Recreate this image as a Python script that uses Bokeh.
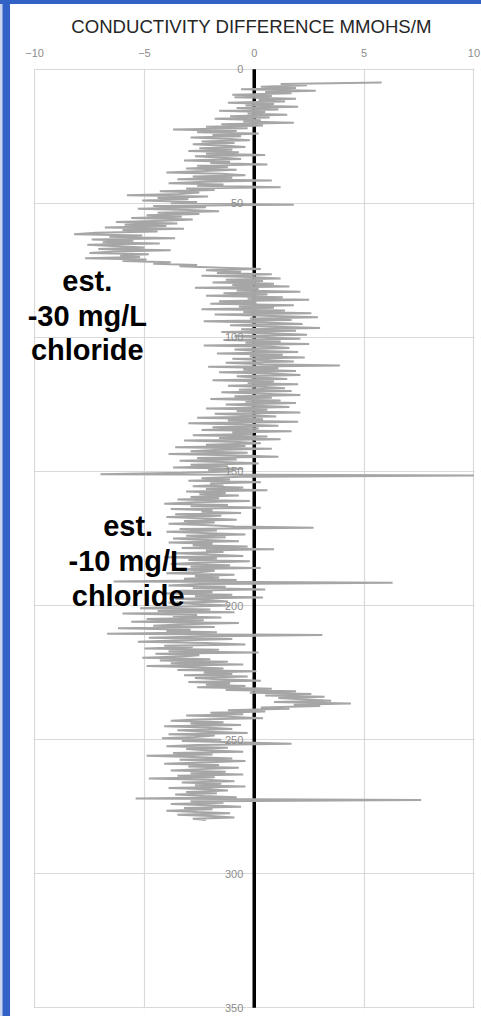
from bokeh.plotting import figure
from bokeh.models import Range1d, FixedTicker, Div, Label, BoxAnnotation
from bokeh.layouts import column, row
from bokeh.embed import file_html
from bokeh.resources import INLINE

# ---------------- data ----------------
TITLE = "CONDUCTIVITY DIFFERENCE MMOHS/M"
X_TICKS = [-10, -5, 0, 5, 10]
Y_TICKS = [0, 50, 100, 150, 200, 250, 300, 350]

DEPTH_START = 5.0   # first logged depth
DEPTH_STEP = 0.5    # logging interval

# conductivity difference, one row per 10 m of depth (first row 5-9.5)
COND = [
    5.8, 1.2, 2.4, 0.3, 1.9, -0.6, 2.8, 0.5, 1.7, -1.0,
    0.8, -0.9, 1.9, 0.2, 1.4, -1.2, 0.9, -0.4, 2.0, -0.8, 1.1, -1.6, 0.5, -0.3, 1.5, -1.1, 0.7, -1.8, 0.3, -0.5,
    1.8, -1.5, 0.4, -2.2, -0.3, -3.7, -0.8, -2.6, 0.2, -1.9, -0.6, -2.9, -1.1, -0.2, -2.4, -0.9, -2.8, -1.3, -0.4, -2.5,
    -1.0, -3.0, -0.7, -2.2, 0.5, -2.7, -1.4, -0.6, -3.2, -1.1, -2.0, 0.6, -2.6, -1.2, -3.1, -0.8, -2.3, -4.0, -1.5, -0.4,
    -2.8, -1.0, -3.5, 0.8, -2.2, -3.9, -1.4, -2.6, 1.2, -3.1, -1.8, -4.3, -2.5, -3.4, -5.8, -2.1, -4.4, -3.0, -5.1, -2.6,
    -3.8, 1.8, -4.6, -2.2, -5.3, -3.0, -1.6, -4.4, -2.5, -4.9, -3.3, -5.6, -2.8, -4.1, -6.3, -3.5, -5.9, -4.0, -6.8, -3.2,
    -6.0, -4.4, -7.2, -8.2, -5.1, -6.6, -3.6, -7.4, -5.5, -6.9, -4.3, -7.6, -6.2, -5.0, -7.1, -3.8, -6.4, -7.5, -4.8, -6.1,
    -5.2, -7.7, -4.9, -6.0, -3.8, -4.6, -2.6, -3.4, -1.5, 0.3, -2.2, -0.6, -1.7, 0.8, -2.4, -0.2, 1.2, -1.3, 0.4, -1.9,
    0.9, -1.0, 1.6, -2.7, 0.2, -0.8, 2.1, -1.4, 0.6, -2.2, 1.3, -0.3, 2.5, -1.6, 0.1, -2.0, 1.8, -0.7, 0.9, -2.4,
    1.4, -0.5, 2.6, -1.8, 0.9, 2.9, -0.2, 1.7, -2.3, 0.5, 2.2, -1.1, 1.0, 3.0, -0.6, 1.9, -1.5, 0.7, 2.4, -0.9,
    0.3, 2.1, -1.4, 1.2, -0.4, 2.5, -2.3, 0.8, 1.6, -0.9, 0.1, 2.0, -1.7, 1.3, -0.2, 2.3, -1.0, 0.6, 1.8, -1.3,
    0.4, 3.9, -2.1, 1.1, -0.5, 1.9, -1.6, 0.7, 2.1, -0.8, 0.2, 1.5, -1.9, 0.9, -0.3, 2.0, -1.2, 0.5, 1.4, -0.7,
    1.7, -1.5, 0.3, 2.1, -0.9, 0.8, -2.0, 1.2, -0.4, 1.9, -1.3, 0.1, 1.6, -2.2, 0.6, -0.8, 2.1, -1.8, -0.2, 1.0,
    -2.6, 0.4, -1.2, 2.0, -3.0, -0.6, 1.1, -1.9, 0.2, -2.4, 1.7, -1.0, -0.1, -2.8, 0.6, -1.6, 1.2, -3.2, -0.7, 0.3,
    -2.2, -0.4, -3.6, 0.8, -1.8, -2.9, -0.3, -3.9, -1.1, 1.1, -2.6, -0.8, -3.4, -1.5, 0.2, -2.9, -1.2, -3.7, -0.5, -2.1,
    -1.0, -3.3, -7.0, 10.0, -0.6, -2.4, -1.1, -3.0, 0.3, -2.0, -1.4, -2.8, -0.5, -2.2, 0.6, -3.1, -1.3, -2.5, -0.7, -2.9,
    -1.6, -3.5, -0.2, -2.7, -4.1, -1.2, -2.9, 0.3, -3.8, -1.9, -2.4, -0.6, -3.6, -1.5, -4.0, -2.1, -0.8, -3.2, -1.8, -3.9,
    -2.3, -0.9, 2.7, -3.4, -1.7, -4.0, -2.0, -0.4, -3.1, -1.3, -3.7, -2.5, -0.7, -3.9, -1.9, -2.8, -0.3, -3.3, 0.9, -2.2,
    -1.4, -3.6, -2.1, -0.5, -4.1, -1.7, -3.0, -0.2, -2.6, -3.8, -1.1, -2.9, 0.3, -3.5, -1.8, -2.4, -4.0, -0.9, -2.7, -1.6,
    -3.2, -0.8, -6.4, 6.3, -2.5, -3.9, -1.3, -2.8, 0.5, -3.4, -1.9, -4.2, -1.0, -2.7, 0.4, -3.6, -2.0, -1.2, -3.9, -2.4,
    -1.1, -3.8, -5.2, -2.0, -4.4, -0.9, -6.0, -2.6, -3.7, -1.5, -4.9, -2.3, -5.6, -0.7, -3.2, -4.6, -1.8, -6.2, -2.9, -4.0,
    -1.7, -6.7, 3.1, -2.4, -4.8, -1.0, -3.6, -5.3, -2.2, -0.4, -4.1, -2.8, -5.0, -1.6, -3.9, 0.2, -4.5, -2.5, -3.3, -5.1,
    -2.0, -4.3, -1.2, -3.8, -0.5, -4.9, -2.6, -1.4, -3.5, 0.1, -2.3, -1.0, -3.2, -0.3, -2.7, -1.6, 0.3, -3.0, -1.1, -2.2,
    -0.4, -2.6, 0.8, -1.3, 1.9, -0.2, 2.6, 0.5, 3.2, 1.1, 2.4, 3.5, 0.9, 4.4, 1.8, 3.0, 0.3, 1.6, -1.2, 0.5,
    -2.0, -0.5, -3.1, -1.2, 0.4, -2.6, -3.8, -1.4, -2.9, -0.6, -4.1, -2.2, -1.0, -3.5, -2.4, -0.3, -3.9, -1.8, -2.7, -4.2,
    -1.5, -3.3, -0.9, 1.7, -2.6, -4.0, -1.2, -3.1, -2.2, -0.5, -3.7, -1.9, -4.9, -2.8, -1.0, -3.4, -0.4, -2.5, -4.1, -1.6,
    -3.0, -0.7, -2.4, -3.8, -1.3, -2.9, -0.5, -3.5, -1.8, -4.8, -2.2, -0.9, -3.3, -1.5, -2.7, -0.4, -3.9, -2.0, -1.2, -3.1,
    -1.7, -3.6, -2.3, -0.8, -5.4, 7.6, -2.9, -1.4, -3.8, -2.1, -0.6, -3.2, -1.9, -4.0, -2.6, -1.1, -3.5, -2.0, -0.9, -2.8,
    -2.2,
]
DEPTH = [round(DEPTH_START + i * DEPTH_STEP, 1) for i in range(len(COND))]

NOTE_LINES_1 = ["est.", "-30 mg/L", "chloride"]
NOTE_LINES_2 = ["est.", "-10 mg/L", "chloride"]

# ---------------- layout / style ----------------
NOTE1_X = -7.6
NOTE1_Y = [79.1, 92.1, 104.8]
NOTE2_X = -5.74
NOTE2_Y = [170.5, 183.5, 196.6]

FONT = "Liberation Sans"
GRID = "#d9d9d9"
TICK_COLOR = "#8c8c8c"
BLUE = "#3362c6"
# the frame is a little larger than the -10..10 / 0..350 box so that texts near the edges are not clipped
X_LO, X_HI = -10.55, 10.3
Y_LO, Y_HI = -2.5, 352.5

p = figure(width=471, height=1012, output_backend="svg", toolbar_location=None,
           x_range=Range1d(X_LO, X_HI), y_range=Range1d(Y_HI, Y_LO),
           x_axis_location="above",
           min_border_left=12, min_border_right=1, min_border_top=58, min_border_bottom=2,
           title=TITLE, margin=0)
p.background_fill_color = "white"
p.border_fill_color = "white"
p.outline_line_color = None

p.title.text_font = FONT
p.title.text_font_size = "18.6px"
p.title.text_font_style = "normal"
p.title.text_color = "#262626"
p.title.align = "center"
p.title.standoff = 17

# x axis on top
xa = p.xaxis[0]
xa.ticker = FixedTicker(ticks=X_TICKS)
xa.axis_line_color = None
xa.major_tick_line_color = None
xa.minor_tick_line_color = None
xa.major_label_text_font = FONT
xa.major_label_text_font_size = "11px"
xa.major_label_text_color = TICK_COLOR
xa.major_label_standoff = 0

# y axis floating at x=0
ya = p.yaxis[0]
ya.ticker = FixedTicker(ticks=Y_TICKS)
ya.fixed_location = 0
ya.axis_line_color = None
ya.major_tick_line_color = None
ya.minor_tick_line_color = None
ya.major_label_text_font = FONT
ya.major_label_text_font_size = "11px"
ya.major_label_text_color = TICK_COLOR
ya.major_label_standoff = 5

p.xgrid.ticker = FixedTicker(ticks=X_TICKS)
p.ygrid.ticker = FixedTicker(ticks=Y_TICKS)
p.xgrid.grid_line_color = GRID
p.ygrid.grid_line_color = GRID
p.xgrid.grid_line_width = 1.2
p.ygrid.grid_line_width = 1.2

# white strips outside the -10..10 / 0..350 box (hide grid stubs)
for kw in (dict(right=-10.03), dict(left=10.03), dict(bottom=-0.2), dict(top=350.2)):
    p.add_layout(BoxAnnotation(fill_color="white", fill_alpha=1.0, line_color=None,
                               level="underlay", **kw))

# thick black zero line from 0 to 350
p.add_layout(BoxAnnotation(left=-0.08, right=0.08, top=0, bottom=350,
                           fill_color="black", fill_alpha=1.0, line_color=None, level="underlay"))

p.line(COND, DEPTH, line_color="#a6a6a6", line_width=2.0)

for xs, ys, lines in [(NOTE1_X, NOTE1_Y, NOTE_LINES_1), (NOTE2_X, NOTE2_Y, NOTE_LINES_2)]:
    for yy, txt in zip(ys, lines):
        p.add_layout(Label(x=xs, y=yy, text=txt, text_font=FONT,
                           text_font_size="29px", text_font_style="bold", text_color="black",
                           text_align="center", text_baseline="alphabetic"))

top_bar = Div(width=481, height=4, margin=0, styles={"background-color": BLUE})
left_bar = Div(width=10, height=1012, margin=0,
               styles={"background": "linear-gradient(to right, #c9d5ef 0px, #c9d5ef 2px, %s 3px, %s 10px)" % (BLUE, BLUE)})
layout = column(top_bar, row(left_bar, p, spacing=0, margin=0), spacing=0, margin=0)

open("out.html", "w").write(file_html(layout, INLINE))
